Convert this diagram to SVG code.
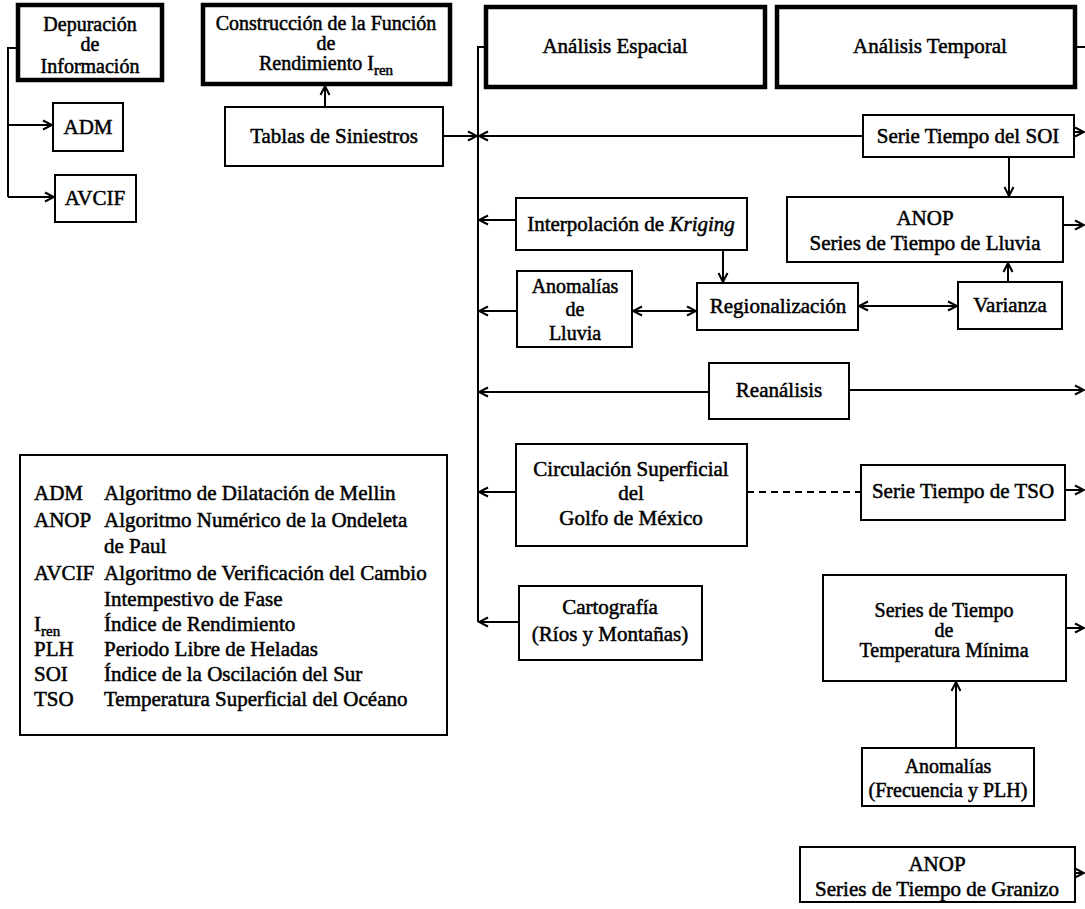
<svg xmlns="http://www.w3.org/2000/svg" width="1085" height="909" viewBox="0 0 1085 909">
<defs>
<marker id="ah" markerUnits="userSpaceOnUse" markerWidth="12" markerHeight="12" refX="10" refY="5" orient="auto-start-reverse" viewBox="0 0 12 10">
<path d="M1,0.5 L10,5 L1,9.5" fill="none" stroke="#000" stroke-width="2"/>
</marker>
<style>
.bx{fill:#fff;stroke:#000;stroke-width:2}
.tk{fill:#fff;stroke:#000;stroke-width:4.5}
text{font-family:"Liberation Serif","Times New Roman",serif;font-size:21px;fill:#000;stroke:#000;stroke-width:0.5;text-anchor:middle}
.m{font-size:20px}
.lg{font-size:21px;text-anchor:start}
.sub{font-size:15px}
.c{fill:none;stroke:#000;stroke-width:2}
.a{fill:none;stroke:#000;stroke-width:2;marker-end:url(#ah)}
.d{fill:none;stroke:#000;stroke-width:2;marker-start:url(#ah);marker-end:url(#ah)}
</style>
</defs>
<rect width="1085" height="909" fill="#fff"/>

<g id="connectors">
<path class="c" d="M18,48 H8 V197"/>
<path class="a" d="M8,125 H52"/>
<path class="a" d="M8,197 H54"/>
<path class="a" d="M325,107 V86"/>
<path class="a" d="M443,136 H477"/>
<path class="c" d="M486,47 H478 V622"/>
<path class="a" d="M863,136 H479"/>
<path class="a" d="M1074,132 H1084"/>
<path class="a" d="M1009,157 V196"/>
<path class="a" d="M516,220 H479"/>
<path class="a" d="M723,250 V282"/>
<path class="a" d="M1063,225 H1084"/>
<path class="a" d="M517,311 H479"/>
<path class="d" d="M633,311 H696"/>
<path class="d" d="M859,306 H957"/>
<path class="a" d="M1008,282 V263"/>
<path class="a" d="M709,392 H479"/>
<path class="a" d="M849,390 H1084"/>
<path class="a" d="M516,492 H479"/>
<path d="M747,492 H861" fill="none" stroke="#000" stroke-width="2" stroke-dasharray="7,5"/>
<path class="a" d="M1065,490 H1084"/>
<path class="a" d="M519,622 H479"/>
<path class="a" d="M1066,628 H1084"/>
<path class="a" d="M956,748 V682"/>
<path class="a" d="M1075,873 H1084"/>
<path class="c" d="M1075,47 H1085"/>
</g>

<g id="n-depuracion">
<rect class="tk" x="18" y="5" width="144" height="75"/>
<text class="m" x="90" y="31">Depuración</text>
<text class="m" x="90" y="51">de</text>
<text class="m" x="90" y="73">Información</text>
</g>
<g id="n-adm">
<rect class="bx" x="53" y="103" width="70" height="48"/>
<text x="88" y="134">ADM</text>
</g>
<g id="n-avcif">
<rect class="bx" x="55" y="175" width="81" height="47"/>
<text x="95" y="205">AVCIF</text>
</g>
<g id="n-construccion">
<rect class="tk" x="203" y="5" width="247" height="79"/>
<text class="m" x="326" y="30">Construcción de la Función</text>
<text class="m" x="326" y="50">de</text>
<text class="m" x="326" y="70">Rendimiento I<tspan class="sub" dy="5">ren</tspan></text>
</g>
<g id="n-tablas">
<rect class="bx" x="225" y="107" width="218" height="59"/>
<text x="334" y="143">Tablas de Siniestros</text>
</g>
<g id="n-espacial">
<rect class="tk" x="486" y="7" width="279" height="80"/>
<text x="615" y="53">Análisis Espacial</text>
</g>
<g id="n-temporal">
<rect class="tk" x="777" y="7" width="298" height="80"/>
<text x="930" y="53">Análisis Temporal</text>
</g>
<g id="n-soi">
<rect class="bx" x="863" y="115" width="211" height="42"/>
<text x="968" y="143">Serie Tiempo del SOI</text>
</g>
<g id="n-kriging">
<rect class="bx" x="516" y="198" width="231" height="52"/>
<text x="631" y="231">Interpolación de <tspan font-style="italic">Kriging</tspan></text>
</g>
<g id="n-anop-lluvia">
<rect class="bx" x="787" y="197" width="276" height="65"/>
<text x="925" y="225">ANOP</text>
<text x="925" y="250">Series de Tiempo de Lluvia</text>
</g>
<g id="n-anomalias-lluvia">
<rect class="bx" x="517" y="271" width="115" height="76"/>
<text class="m" x="575" y="293">Anomalías</text>
<text class="m" x="575" y="316">de</text>
<text class="m" x="575" y="340">Lluvia</text>
</g>
<g id="n-regionalizacion">
<rect class="bx" x="697" y="283" width="161" height="47"/>
<text x="778" y="313">Regionalización</text>
</g>
<g id="n-varianza">
<rect class="bx" x="958" y="282" width="104" height="47"/>
<text x="1010" y="312">Varianza</text>
</g>
<g id="n-reanalisis">
<rect class="bx" x="709" y="363" width="140" height="56"/>
<text x="779" y="397">Reanálisis</text>
</g>
<g id="n-circulacion">
<rect class="bx" x="516" y="444" width="231" height="102"/>
<text x="631" y="476">Circulación Superficial</text>
<text x="631" y="500">del</text>
<text x="631" y="525">Golfo de México</text>
</g>
<g id="n-tso">
<rect class="bx" x="861" y="465" width="204" height="55"/>
<text x="963" y="498">Serie Tiempo de TSO</text>
</g>
<g id="n-cartografia">
<rect class="bx" x="519" y="586" width="183" height="74"/>
<text x="610" y="614">Cartografía</text>
<text x="610" y="641">(Ríos y Montañas)</text>
</g>
<g id="n-temperatura">
<rect class="bx" x="823" y="575" width="243" height="106"/>
<text class="m" x="944" y="617">Series de Tiempo</text>
<text class="m" x="944" y="637">de</text>
<text class="m" x="944" y="657">Temperatura Mínima</text>
</g>
<g id="n-anomalias-plh">
<rect class="bx" x="862" y="748" width="172" height="58"/>
<text class="m" x="948" y="773">Anomalías</text>
<text class="m" x="948" y="797">(Frecuencia y PLH)</text>
</g>
<g id="n-anop-granizo">
<rect class="bx" x="800" y="847" width="275" height="55"/>
<text x="937" y="871">ANOP</text>
<text x="937" y="896">Series de Tiempo de Granizo</text>
</g>

<g id="legend">
<rect class="bx" x="20" y="455" width="427" height="280"/>
<text class="lg" x="34" y="500">ADM</text><text class="lg" x="104" y="500">Algoritmo de Dilatación de Mellin</text>
<text class="lg" x="34" y="527">ANOP</text><text class="lg" x="104" y="527">Algoritmo Numérico de la Ondeleta</text>
<text class="lg" x="104" y="553">de Paul</text>
<text class="lg" x="34" y="580">AVCIF</text><text class="lg" x="104" y="580">Algoritmo de Verificación del Cambio</text>
<text class="lg" x="104" y="606">Intempestivo de Fase</text>
<text class="lg" x="34" y="631">I<tspan class="sub" dy="5">ren</tspan></text><text class="lg" x="104" y="631">Índice de Rendimiento</text>
<text class="lg" x="34" y="656">PLH</text><text class="lg" x="104" y="656">Periodo Libre de Heladas</text>
<text class="lg" x="34" y="681">SOI</text><text class="lg" x="104" y="681">Índice de la Oscilación del Sur</text>
<text class="lg" x="34" y="706">TSO</text><text class="lg" x="104" y="706">Temperatura Superficial del Océano</text>
</g>
</svg>
